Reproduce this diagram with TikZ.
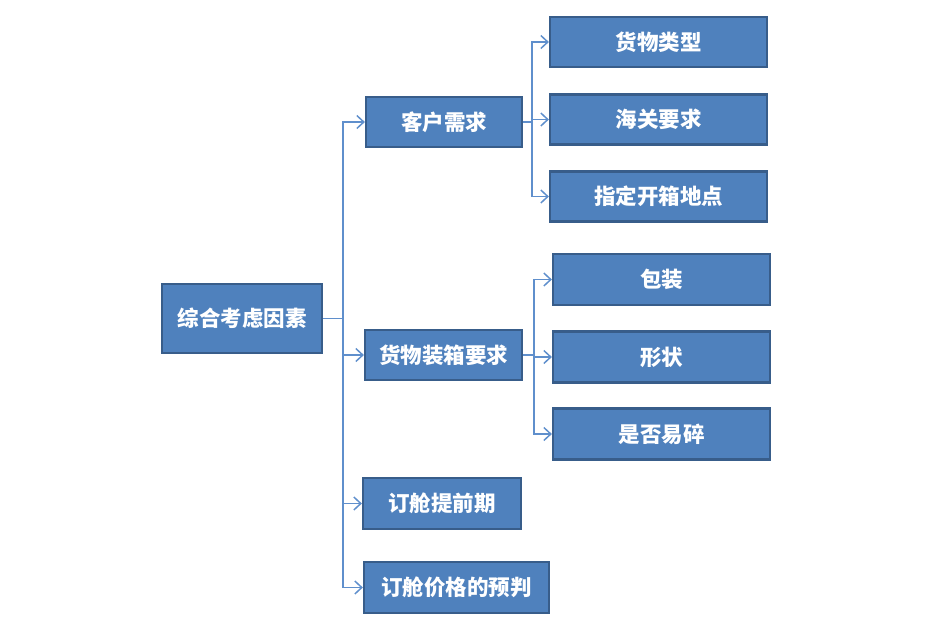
\documentclass[tikz,border=0pt]{standalone}
\usepackage{fontspec}
\setmainfont{Noto Sans CJK SC}
\usetikzlibrary{arrows.meta}
\definecolor{boxfill}{HTML}{4F81BD}
\definecolor{boxline}{HTML}{385D8A}
\definecolor{conncol}{HTML}{5F8FCC}
\tikzset{
  box/.style={draw=boxline, line width=2.2pt, fill=boxfill, text=white,
    font=\fontsize{21.5}{24}\selectfont\bfseries, inner sep=0pt, anchor=center},
  conn/.style={draw=conncol, line width=1.5pt, -{Straight Barb[length=7pt,width=13pt,line width=1.5pt]}},
}
\begin{document}
\begin{tikzpicture}[x=1pt,y=-1pt]
\useasboundingbox (0,0) rectangle (952,635);
\node[box, minimum width=160pt, minimum height=69pt] (root) at (242,318.5) {综合考虑因素};
\node[box, minimum width=156pt, minimum height=50pt] (c1) at (444,122) {客户需求};
\node[box, minimum width=157pt, minimum height=50pt] (c2) at (443.5,355) {货物装箱要求};
\node[box, minimum width=158pt, minimum height=51pt] (c3) at (442,503.5) {订舱提前期};
\node[box, minimum width=185pt, minimum height=51pt] (c4) at (456.5,587.5) {订舱价格的预判};
\node[box, minimum width=217pt, minimum height=50pt] (g1) at (658.5,42) {货物类型};
\node[box, minimum width=217pt, minimum height=50pt] (g2) at (658.5,119.5) {海关要求};
\node[box, minimum width=217pt, minimum height=50pt] (g3) at (658.5,196.5) {指定开箱地点};
\node[box, minimum width=217pt, minimum height=51pt] (h1) at (661.5,279.5) {包装};
\node[box, minimum width=217pt, minimum height=51pt] (h2) at (661.5,357) {形状};
\node[box, minimum width=217pt, minimum height=51pt] (h3) at (661.5,434) {是否易碎};
\coordinate (t0) at (343,318.5);
\coordinate (t1) at (532,122);
\coordinate (t2) at (534,355);
\draw[conncol, line width=1.5pt] (root.east) -- (t0);
\foreach \c in {c1,c2,c3,c4} \draw[conn] (t0) |- (\c.west);
\draw[conncol, line width=1.5pt] (c1.east) -- (t1);
\foreach \c in {g1,g2,g3} \draw[conn] (t1) |- (\c.west);
\draw[conncol, line width=1.5pt] (c2.east) -- (t2);
\foreach \c in {h1,h2,h3} \draw[conn] (t2) |- (\c.west);
\end{tikzpicture}
\end{document}
